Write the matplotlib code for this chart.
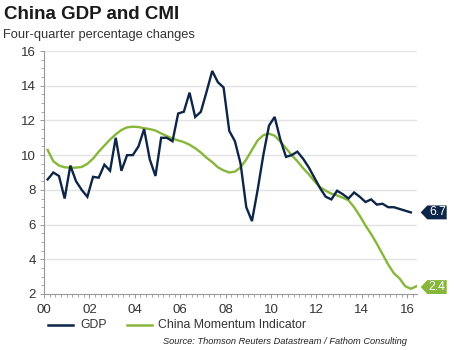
import matplotlib
matplotlib.use("Agg")
import matplotlib.pyplot as plt
import matplotlib.transforms as mtransforms
from matplotlib.patches import Polygon
from matplotlib.lines import Line2D
import numpy as np

plt.rcParams['font.family'] = ['Liberation Sans', 'DejaVu Sans']

# ---- data ----
gdp_start = 2000.16  # first quarterly observation position (years)
gdp = [8.6, 9.0, 8.8, 7.5, 9.4, 8.5, 8.0, 7.6, 8.75, 8.7,
       9.45, 9.1, 11.0, 9.1, 10.0, 10.0, 10.5, 11.5, 9.75, 8.8,
       11.0, 11.0, 10.8, 12.4, 12.5, 13.6, 12.2, 12.5, 13.65, 14.85,
       14.2, 13.9, 11.4, 10.8, 9.5, 7.0, 6.2, 8.0, 10.0, 11.7,
       12.2, 10.9, 9.9, 10.0, 10.2, 9.8, 9.3, 8.7, 8.1, 7.6,
       7.45, 7.95, 7.75, 7.5, 7.85, 7.6, 7.3, 7.45, 7.15, 7.2,
       7.0, 7.0, 6.9, 6.8, 6.7]
cmi = [10.3, 9.65, 9.4, 9.3, 9.28, 9.28, 9.32, 9.5, 9.8, 10.2,
       10.55, 10.9, 11.2, 11.45, 11.6, 11.64, 11.62, 11.55, 11.5, 11.42,
       11.25, 11.1, 10.95, 10.85, 10.75, 10.6, 10.4, 10.15, 9.85, 9.6,
       9.3, 9.12, 9.0, 9.05, 9.3, 9.75, 10.3, 10.85, 11.15, 11.24,
       11.12, 10.78, 10.4, 10.0, 9.65, 9.25, 8.9, 8.5, 8.15, 7.95,
       7.78, 7.68, 7.55, 7.4, 7.0, 6.5, 5.95, 5.45, 4.9, 4.3,
       3.7, 3.2, 2.9, 2.45, 2.3, 2.45]
gdp_last_label = "6.7"
cmi_last_label = "2.4"
xtick_years = [2000, 2002, 2004, 2006, 2008, 2010, 2012, 2014, 2016]
xtick_labels = ["00", "02", "04", "06", "08", "10", "12", "14", "16"]
yticks = [2, 4, 6, 8, 10, 12, 14, 16]

gdp_x = gdp_start + 0.25 * np.arange(len(gdp))
cmi_x = gdp_start + 0.25 * np.arange(len(cmi))

NAVY = "#0d2547"
GREEN = "#86b73a"
TXT = "#333333"

fig = plt.figure(figsize=(4.57, 3.5), dpi=100)
ax = fig.add_axes([44/457, 1-294/350, (417-44)/457, (294-51)/350])

ax.set_xlim(2000, 2016.43)
ax.set_ylim(2, 16)

for y in yticks[1:]:
    ax.axhline(y, color="#e3e3e3", lw=1.0, zorder=0)

ax.plot(cmi_x, cmi, color=GREEN, lw=1.7, zorder=2, solid_joinstyle='round')
ax.plot(gdp_x, gdp, color=NAVY, lw=1.7, zorder=3, solid_joinstyle='miter')

for s in ["top", "right"]:
    ax.spines[s].set_visible(False)
for s in ["left", "bottom"]:
    ax.spines[s].set_color("#999999")
    ax.spines[s].set_linewidth(0.8)

ax.set_xticks(xtick_years)
ax.set_xticklabels(xtick_labels)
ax.set_xticks(np.arange(2000, 2016.5, 0.25), minor=True)
ax.set_yticks(yticks)
ax.set_yticks(np.arange(2, 16.01, 0.5), minor=True)
ax.tick_params(axis="both", which="major", labelsize=9.5, colors="#999999",
               labelcolor=TXT, length=3, width=0.7)
ax.tick_params(axis="both", which="minor", colors="#999999", length=2, width=0.6)
ax.tick_params(axis="x", pad=4)
ax.tick_params(axis="y", pad=3)

# value tags
trans = mtransforms.blended_transform_factory(ax.transAxes, ax.transData)
def tag(yv, text, color):
    x0 = 1.0099
    x1 = 1.0275
    x2 = 1.0796
    h = 0.4
    poly = Polygon([(x0, yv), (x1, yv + h), (x2, yv + h), (x2, yv - h), (x1, yv - h)],
                   closed=True, transform=trans, facecolor=color, edgecolor="none",
                   clip_on=False, zorder=5)
    ax.add_patch(poly)
    ax.text((x1 + x2) / 2 + 0.001, yv, text, transform=trans, color="white",
            fontsize=8.8, ha="center", va="center", clip_on=False, zorder=6)

tag(gdp[-1], gdp_last_label, NAVY)
tag(cmi[-1] - 0.05, cmi_last_label, GREEN)

# titles
fig.text(4/457, 1-6/350, "China GDP and CMI", fontsize=13.5, fontweight="bold",
         color="#1a1a1a", ha="left", va="top")
fig.text(3/457, 1-29/350, "Four-quarter percentage changes", fontsize=9.3,
         color=TXT, ha="left", va="top")

# legend
ly = 1 - 325/350
fig.add_artist(Line2D([48/457, 73/457], [ly, ly], color=NAVY, lw=1.8,
                      transform=fig.transFigure))
fig.text(80/457, ly, "GDP", fontsize=8.8, color=TXT, ha="left", va="center")
fig.add_artist(Line2D([127/457, 152/457], [ly, ly], color=GREEN, lw=1.8,
                      transform=fig.transFigure))
fig.text(158/457, ly, "China Momentum Indicator", fontsize=8.8, color=TXT,
         ha="left", va="center")

fig.text(407/457, 1-341/350, "Source: Thomson Reuters Datastream / Fathom Consulting",
         fontsize=6.7, style="italic", color="#222222", ha="right", va="center")

fig.savefig("out.png", dpi=100, facecolor="white")
